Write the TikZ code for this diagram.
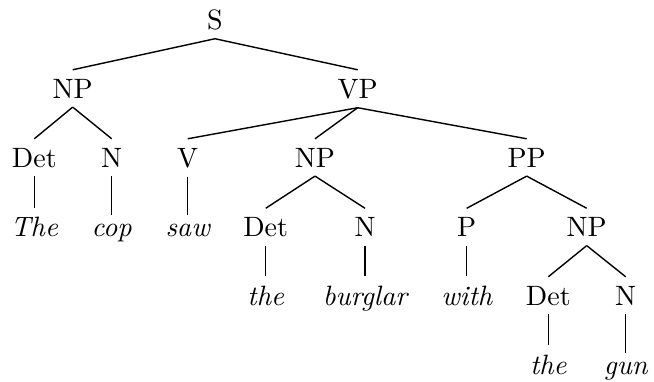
\documentclass[tikz,border=0pt]{standalone}
\usepackage{amsmath,amssymb}
\usepackage{tikz}

\begin{document}
\begin{tikzpicture}[x=0.3571pt,y=-0.3571pt,line width=0.5pt,
    cat/.style={anchor=base,inner sep=3pt},
    word/.style={cat,font=\itshape}]
    \useasboundingbox (0,0) rectangle (654,381);
    %categories
    \node[cat] (S) at (215,29) {S};
    \node[cat] (NP) at (72.7,98) {NP};
    \node[cat] (VP) at (357.7,98) {VP};
    \node[cat] (Det) at (34.3,167) {Det};
    \node[cat] (N) at (111.7,167) {N};
    \node[cat] (V) at (187.7,167) {V};
    \node[cat] (NPo) at (315,167) {NP};
    \node[cat] (PP) at (526.7,167) {PP};
    \node[cat] (Deto) at (265.7,236.5) {Det};
    \node[cat] (No) at (365,236.5) {N};
    \node[cat] (P) at (466.7,236.5) {P};
    \node[cat] (NPp) at (586.7,236.5) {NP};
    \node[cat] (Detp) at (548.3,305) {Det};
    \node[cat] (Np) at (625.7,305) {N};
    %words
    \node[word] (The) at (34.3,236.5) {The};
    \node[word] (cop) at (111.7,236.5) {cop};
    \node[word] (saw) at (187.7,236.5) {saw};
    \node[word] (the) at (265.7,305) {the};
    \node[word] (burglar) at (365,305) {burglar};
    \node[word] (with) at (466.7,305) {with};
    \node[word] (the2) at (548.3,374) {the};
    \node[word] (gun) at (625.7,374) {gun};
    %edges
    \path
     (S.south) edge (NP.north)
     (S.south) edge (VP.north)
     (NP.south) edge (Det.north)
     (NP.south) edge (N.north)
     (VP.south) edge (V.north)
     (VP.south) edge (NPo.north)
     (VP.south) edge (PP.north)
     (NPo.south) edge (Deto.north)
     (NPo.south) edge (No.north)
     (PP.south) edge (P.north)
     (PP.south) edge (NPp.north)
     (NPp.south) edge (Detp.north)
     (NPp.south) edge (Np.north)
%      leaves
     (Det.south) edge (The.north)
     (N.south) edge (cop.north)
     (V.south) edge (saw.north)
     (Deto.south) edge (the.north)
     (No.south) edge (burglar.north)
     (P.south) edge (with.north)
     (Detp.south) edge (the2.north)
     (Np.south) edge (gun.north);
\end{tikzpicture}
\end{document}
